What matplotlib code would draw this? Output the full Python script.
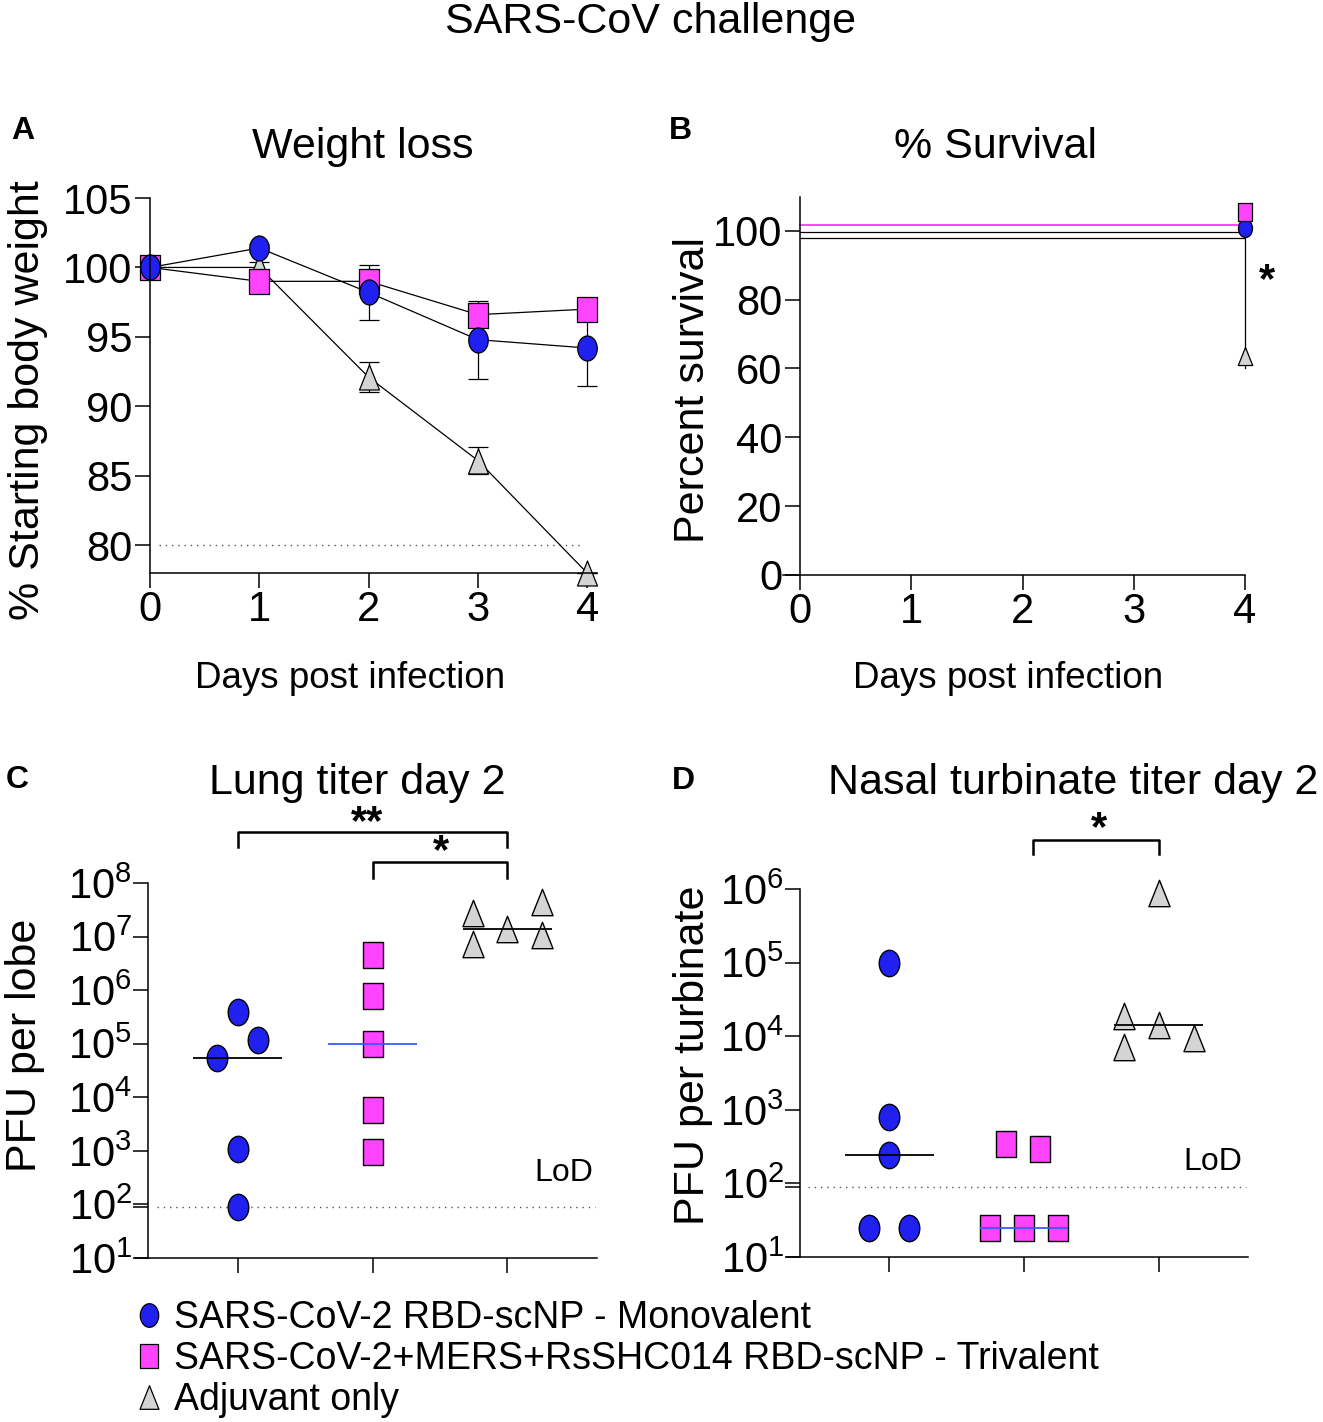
"""SARS-CoV challenge figure: weight loss, survival, lung and nasal titers."""

import matplotlib
matplotlib.use("Agg")
import matplotlib.pyplot as plt
from matplotlib.lines import Line2D
from matplotlib.path import Path
from matplotlib.ticker import FixedLocator, NullFormatter
import numpy as np

W, H = 1323, 1422
plt.rcParams.update({
    "font.family": ["Liberation Sans", "DejaVu Sans"],
    "mathtext.fontset": "custom",
    "mathtext.rm": "Liberation Sans",
    "mathtext.it": "Liberation Sans:italic",
    "mathtext.bf": "Liberation Sans:bold",
    "axes.linewidth": 1.1,
    "xtick.major.width": 1.1, "ytick.major.width": 1.1,
    "xtick.minor.width": 1.1, "ytick.minor.width": 1.1,
    "xtick.major.size": 11, "ytick.major.size": 10.5,
    "ytick.minor.size": 10.5,
})

# ---- data ----
days = [0, 1, 2, 3, 4]
wt_mono = [100, 101.4, 98.2, 94.8, 94.2]
wt_mono_err = [0, 0.3, 2.0, 2.8, 2.7]
wt_tri = [100, 99.0, 99.0, 96.6, 97.0]
wt_tri_err = [0, 0.3, 0.8, 0.5, 0.5]
wt_adj = [100, 100.0, 92.1, 86.1, 78.0]
wt_adj_err = [0, 0.4, 1.1, 1.0, 0]

surv_days = [0, 4]
surv_mono = [100, 100]
surv_tri = [100, 100]
surv_adj = [100, 60]

lung_mono = [3.9e5, 1.15e5, 5.5e4, 1.1e3, 90]
lung_tri = [4.5e6, 7.9e5, 1.0e5, 5.9e3, 9.7e2]
lung_adj = [2.8e7, 7.4e6, 1.4e7, 4.4e7, 1.05e7]

nasal_mono = [1.0e5, 7.9e2, 2.4e2, 25, 25]
nasal_tri = [3.4e2, 2.9e2, 25, 25, 25]
nasal_adj = [8.7e5, 1.9e4, 1.4e4, 7.2e3, 9.4e3]
LOD = 90

labels = ["SARS-CoV-2 RBD-scNP - Monovalent",
          "SARS-CoV-2+MERS+RsSHC014 RBD-scNP - Trivalent",
          "Adjuvant only"]

# ---- styling ----
BLUE, MAGENTA, GRAY = "#2020f0", "#ff44ff", "#d4d4d4"
MED_BLUE = "#3a5aff"

_uc = Path.unit_circle()
CIRCLE = Path(_uc.vertices * [0.78, 1.0], _uc.codes)
SQUARE = Path([(-0.78, -1), (0.78, -1), (0.78, 1), (-0.78, 1), (-0.78, -1)], closed=True)
TRI = Path([(-0.8, -1), (0.8, -1), (0, 1), (-0.8, -1)], closed=True)
FILL = {id(CIRCLE): BLUE, id(SQUARE): MAGENTA, id(TRI): GRAY}

# jitter of individual animals within a group (x offsets)
lung_dx = [[0, 0.15, -0.15, 0, 0], [0, 0, 0, 0, 0], [-0.255, -0.255, 0, 0.255, 0.255]]
nasal_dx = [[0, 0, 0, -0.148, 0.148], [-0.13, 0.12, -0.25, 0, 0.25], [0, -0.26, 0, -0.26, 0.26]]


def px_axes(l, t, r, b):
    return fig.add_axes([l / W, 1 - b / H, (r - l) / W, (b - t) / H])


def ftext(x, y, s, **kw):
    fig.text(x / W, 1 - y / H, s, ha=kw.pop("ha", "center"), va=kw.pop("va", "center"), **kw)


def style(ax):
    ax.spines[["top", "right"]].set_visible(False)
    ax.tick_params(labelsize=30)
    ax.tick_params(axis="x", pad=1)
    ax.tick_params(axis="y", pad=2)


fig = plt.figure(figsize=(W / 100, H / 100), dpi=100)

# ---- A: weight loss ----
ax = px_axes(150, 198, 597, 573)
style(ax)
for vals, err, col, mk in [(wt_adj, wt_adj_err, GRAY, TRI),
                           (wt_tri, wt_tri_err, MAGENTA, SQUARE),
                           (wt_mono, wt_mono_err, BLUE, CIRCLE)]:
    ax.errorbar(days, vals, yerr=err, color="black", lw=0.9, elinewidth=0.9,
                capsize=7, capthick=0.9, marker=mk, ms=18, mfc=col, mec="black",
                mew=0.9, clip_on=False)
ax.hlines(80, 0.08, 3.95, colors="#555555", lw=1.0, linestyles=(0, (1, 3.5)))
ax.set_xlim(0, 4.09)
ax.set_ylim(78, 105)
ax.set_xticks(days)
ax.set_yticks([80, 85, 90, 95, 100, 105])

# ---- B: survival ----
ax = px_axes(800, 197, 1245, 575)
style(ax)
# overlapping curves are nudged apart as in the original (line offset, marker offset)
for vals, col, mk, off, moff, lw in [(surv_adj, "black", TRI, -2.2, 3.6, 0.9),
                                     (surv_mono, "black", CIRCLE, -0.3, 0.9, 0.9),
                                     (surv_tri, MAGENTA, SQUARE, 1.7, 3.6, 1.4)]:
    y = np.array(vals, float) + off
    y[-1] = max(y[-1], vals[-1])
    ax.plot(surv_days, y, drawstyle="steps-post", color=col, lw=lw, clip_on=False)
    ax.plot(surv_days[-1], y[-1] + moff, ls="none", marker=mk, ms=13, mfc=FILL[id(mk)],
            mec="black", mew=0.9, clip_on=False, zorder=4)
ax.text(4.2, 85.5, "*", fontsize=30, fontweight="bold", ha="center", va="center")
ax.set_xlim(0, 4)
ax.set_ylim(0, 109.8)
ax.set_xticks(days)
ax.set_yticks([0, 20, 40, 60, 80, 100])
ax.spines["bottom"].set_bounds(-0.153, 4)


def titer_panel(ax, groups, dxs, top_dec, lod_xy):
    style(ax)
    ax.set_yscale("log")
    for i, (vals, mk, mcol) in enumerate(groups):
        x = np.full(len(vals), i, float) + np.array(dxs[i])
        ax.plot(x, vals, ls="none", marker=mk, ms=19, mfc=FILL[id(mk)], mec="black", mew=1.0,
                clip_on=False, zorder=3)
        ax.hlines(np.median(vals), i - 0.33, i + 0.33, colors=mcol, lw=1.3, zorder=4)
    ax.hlines(LOD, -0.6, 2.65, colors="#555555", lw=1.0, linestyles=(0, (1, 3.5)))
    ax.text(*lod_xy, "LoD", fontsize=23, ha="center", va="center")
    ax.set_xlim(-0.663, 2.663)
    ax.set_ylim(10, 10.0 ** top_dec)
    ax.set_xticks([0, 1, 2])
    ax.set_xticklabels([])
    decs = np.arange(1, top_dec + 1)
    ax.set_yticks(10.0 ** decs)
    ax.set_yticklabels([r"$\mathregular{10^{%d}}$" % d for d in decs])
    ax.yaxis.set_minor_locator(FixedLocator([LOD]))
    ax.yaxis.set_minor_formatter(NullFormatter())
    ax.tick_params(axis="y", labelsize=30, pad=1)
    ax.spines["bottom"].set_bounds(-0.76, 2.663)


def bracket(ax, x0, x1, ytop, ybot, star, sx, sy):
    ax.plot([x0, x0, x1, x1], [10 ** ybot, 10 ** ytop, 10 ** ytop, 10 ** ybot],
            color="black", lw=1.8, clip_on=False)
    ax.text(sx, 10 ** sy, star, fontsize=30, fontweight="bold", ha="center", va="center")


# ---- C: lung titer ----
ax = px_axes(148, 883, 597, 1258)
titer_panel(ax, [(lung_mono, CIRCLE, "black"), (lung_tri, SQUARE, MED_BLUE),
                 (lung_adj, TRI, "black")], lung_dx, 8, (2.42, 380))
bracket(ax, 0, 2, 8.95, 8.67, "**", 0.96, 9.12)
bracket(ax, 1, 2, 8.39, 8.09, "*", 1.51, 8.58)

# ---- D: nasal turbinate titer ----
ax = px_axes(800, 889, 1248, 1257)
titer_panel(ax, [(nasal_mono, CIRCLE, "black"), (nasal_tri, SQUARE, MED_BLUE),
                 (nasal_adj, TRI, "black")], nasal_dx, 6, (2.4, 195))
bracket(ax, 1.07, 2, 6.67, 6.47, "*", 1.56, 6.82)

# ---- titles, labels ----
ftext(651, 22, "SARS-CoV challenge", fontsize=31)
ftext(363, 147, "Weight loss", fontsize=31)
ftext(996, 147, "% Survival", fontsize=31)
ftext(357, 783, "Lung titer day 2", fontsize=31)
ftext(1073, 783, "Nasal turbinate titer day 2", fontsize=31)
for x, y, s in [(23, 131, "A"), (680, 131, "B"), (17, 780, "C"), (683, 781, "D")]:
    ftext(x, y, s, fontsize=23, fontweight="bold")
ftext(28, 400, "% Starting body weight", fontsize=31, rotation=90)
ftext(693, 390, "Percent survival", fontsize=31, rotation=90)
ftext(25, 1045, "PFU per lobe", fontsize=31, rotation=90)
ftext(693, 1055, "PFU per turbinate", fontsize=31, rotation=90)
ftext(350, 679, "Days post infection", fontsize=26.5)
ftext(1008, 679, "Days post infection", fontsize=26.5)

# ---- legend ----
handles = [Line2D([], [], ls="none", marker=mk, ms=17, mfc=FILL[id(mk)], mec="black", mew=0.9)
           for mk in (CIRCLE, SQUARE, TRI)]
fig.legend(handles, labels, loc="upper left", bbox_to_anchor=(136 / W, 1 - 1300 / H),
           frameon=False, fontsize=27, handlelength=0.7, handletextpad=0.3,
           labelspacing=0.14, borderaxespad=0, borderpad=0)

fig.savefig("out.png", dpi=100)
